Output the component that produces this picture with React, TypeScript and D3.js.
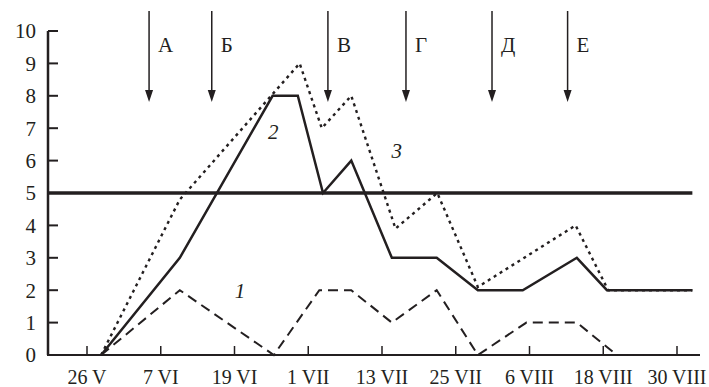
import React, { useEffect, useRef } from "react";
import * as d3 from "d3";

// days counted from 26 V
const tickDays = [0, 12, 24, 36, 48, 60, 72, 84, 96];
const tickLabels = ["26 V", "7 VI", "19 VI", "1 VII", "13 VII", "25 VII", "6 VIII", "18 VIII", "30 VIII"];
const yTicks = [0, 1, 2, 3, 4, 5, 6, 7, 8, 9, 10];

// series 1 (dashed)
const s1Days = [2.3, 15.1, 30.4, 37.8, 43, 49.6, 56.9, 63.6, 71.5, 79.7, 86.2, 98.5];
const s1Vals = [0, 2, 0, 2, 2, 1, 2, 0, 1, 1, 0, 0];
// series 2 (solid)
const s2Days = [2.3, 15.1, 30.2, 34.3, 38.4, 43, 49.6, 56.9, 63.6, 70.9, 79.7, 84.6, 98.5];
const s2Vals = [0, 3, 8, 8, 5, 6, 3, 3, 2, 2, 3, 2, 2];
// series 3 (dotted)
const s3Days = [2.3, 15.1, 34.6, 38.2, 43, 50.2, 57, 63.6, 79.5, 84.8, 98.5];
const s3Vals = [0, 4.8, 9, 7, 8, 3.9, 5, 2.1, 4, 2, 2];

const threshold = 5;

const arrowDays = [10.1, 20.3, 39.2, 51.9, 65.9, 78.2];
const arrowLabels = ["А", "Б", "В", "Г", "Д", "Е"];

const seriesLabels = ["1", "2", "3"];
const seriesLabelPos = [
  [24.9, 2],
  [30.3, 6.9],
  [50.4, 6.3],
];

const App = () => {
  const ref = useRef<SVGSVGElement>(null);

  useEffect(() => {
    const svg = d3.select(ref.current);
    svg.selectAll("*").remove();

    const width = 709;
    const height = 387;
    const left = 48;
    const right = 700;
    const font = "'Liberation Serif', 'Times New Roman', serif";
    const ink = "#231f20";

    const x = d3.scaleLinear().domain([0, 96]).range([87, 677]);
    const y = d3.scaleLinear().domain([0, 10]).range([355, 31]);

    svg.attr("width", width).attr("height", height);
    const g = svg.append("g");

    // axes
    g.append("line")
      .attr("x1", left).attr("x2", left)
      .attr("y1", y(10)).attr("y2", y(0))
      .attr("stroke", ink).attr("stroke-width", 2.5);
    g.append("line")
      .attr("x1", left - 1).attr("x2", right)
      .attr("y1", y(0)).attr("y2", y(0))
      .attr("stroke", ink).attr("stroke-width", 2.2);

    yTicks.forEach((t) => {
      g.append("line")
        .attr("x1", left).attr("x2", left + 10)
        .attr("y1", y(t)).attr("y2", y(t))
        .attr("stroke", ink).attr("stroke-width", 2);
      g.append("text")
        .attr("x", 36).attr("y", y(t))
        .attr("dy", "0.35em")
        .attr("text-anchor", "end")
        .attr("font-family", font)
        .attr("font-size", 21)
        .attr("fill", ink)
        .text(t);
    });

    tickDays.forEach((d, i) => {
      g.append("line")
        .attr("x1", x(d)).attr("x2", x(d))
        .attr("y1", y(0)).attr("y2", y(0) - 9)
        .attr("stroke", ink).attr("stroke-width", 1.5);
      g.append("text")
        .attr("x", x(d)).attr("y", 384)
        .attr("text-anchor", "middle")
        .attr("font-family", font)
        .attr("font-size", 20)
        .attr("fill", ink)
        .text(tickLabels[i]);
    });

    // threshold
    g.append("line")
      .attr("x1", left).attr("x2", x(98.5))
      .attr("y1", y(threshold)).attr("y2", y(threshold))
      .attr("stroke", ink).attr("stroke-width", 3.5);

    const line = d3.line<[number, number]>()
      .x((d) => x(d[0]))
      .y((d) => y(d[1]));

    const series = [
      { days: s1Days, vals: s1Vals, dash: "10,6", w: 2 },
      { days: s2Days, vals: s2Vals, dash: null, w: 2.5 },
      { days: s3Days, vals: s3Vals, dash: "3,4", w: 2.4 },
    ];
    series.forEach((s) => {
      const pts = s.days.map((d, i) => [d, s.vals[i]] as [number, number]);
      g.append("path")
        .attr("d", line(pts))
        .attr("fill", "none")
        .attr("stroke", ink)
        .attr("stroke-width", s.w)
        .attr("stroke-dasharray", s.dash)
        .attr("stroke-linejoin", "miter");
    });

    // arrows
    arrowDays.forEach((d, i) => {
      const ax = x(d);
      g.append("line")
        .attr("x1", ax).attr("x2", ax)
        .attr("y1", 11).attr("y2", 95)
        .attr("stroke", ink).attr("stroke-width", 1.5);
      g.append("path")
        .attr("d", `M${ax - 4},${90} L${ax + 4},${90} L${ax},${102} Z`)
        .attr("fill", ink);
      g.append("text")
        .attr("x", ax + 9).attr("y", 52)
        .attr("font-family", font)
        .attr("font-size", 21)
        .attr("fill", ink)
        .text(arrowLabels[i]);
    });

    seriesLabels.forEach((lab, i) => {
      g.append("text")
        .attr("x", x(seriesLabelPos[i][0]))
        .attr("y", y(seriesLabelPos[i][1]))
        .attr("dy", "0.35em")
        .attr("text-anchor", "middle")
        .attr("font-family", font)
        .attr("font-style", "italic")
        .attr("font-size", 21)
        .attr("fill", ink)
        .text(lab);
    });
  }, []);

  return (
    <svg
      ref={ref}
      style={{ position: "absolute", left: 0, top: 0, background: "#fff" }}
    ></svg>
  );
};

export default App;
